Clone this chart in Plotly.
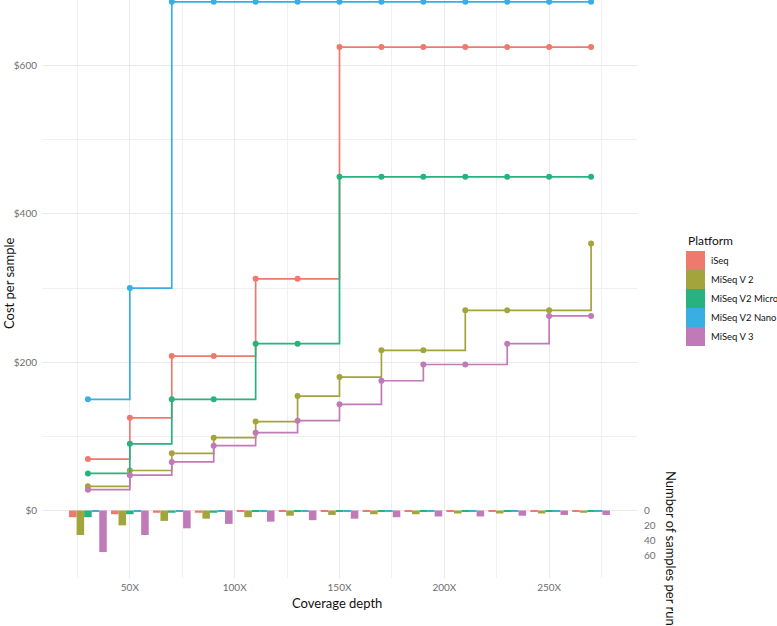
import plotly.graph_objects as go

# ---------------- data ----------------
depths = [30, 50, 70, 90, 110, 130, 150, 170, 190, 210, 230, 250, 270]
platforms = ["iSeq", "MiSeq V 2", "MiSeq V2 Micro", "MiSeq V2 Nano", "MiSeq V 3"]
colors = ["#EE7A6E", "#A3A43B", "#27B27E", "#3AADE2", "#C07AB8"]

iseq_cost = [69.4, 125, 208.3, 208.3, 312.5, 312.5, 625, 625, 625, 625, 625, 625, 625]
v2_cost = [32.7, 54, 77.1, 98.2, 120, 154.3, 180, 216, 216, 270, 270, 270, 360]
micro_cost = [50, 90, 150, 150, 225, 225, 450, 450, 450, 450, 450, 450, 450]
nano_cost = [150, 300, 686, 686, 686, 686, 686, 686, 686, 686, 686, 686, 686]
v3_cost = [28.1, 47.7, 65.6, 87.5, 105, 121.2, 143.2, 175, 196.9, 196.9, 225, 262.5, 262.5]

iseq_n = [9, 5, 3, 3, 2, 2, 1, 1, 1, 1, 1, 1, 1]
v2_n = [33, 20, 14, 11, 9, 7, 6, 5, 5, 4, 4, 4, 3]
micro_n = [9, 5, 3, 3, 2, 2, 1, 1, 1, 1, 1, 1, 1]
nano_n = [2, 1, 1, 1, 1, 1, 1, 1, 1, 1, 1, 1, 1]
v3_n = [56, 33, 24, 18, 15, 13, 11, 9, 8, 8, 7, 6, 6]

costs = [iseq_cost, v2_cost, micro_cost, nano_cost, v3_cost]
samples = [iseq_n, v2_n, micro_n, nano_n, v3_n]

x_ticks = [50, 100, 150, 200, 250]
x_ticktext = ["50X", "100X", "150X", "200X", "250X"]
y_ticks = [0, 200, 400, 600]
y_ticktext = ["$0", "$200", "$400", "$600"]
y2_ticks = [0, -20, -40, -60]
y2_ticktext = ["0", "20", "40", "60"]

# ---------------- figure ----------------
W, H = 777, 626
ML, MR, MT, MB = 42, 140, 0, 48
PW, PH = W - ML - MR, H - MT - MB
FONT = "Lato"


def px2x(px):
    return (px - ML) / PW


def py2y(py):
    return (MT + PH - py) / PH


fig = go.Figure()

for name, col, n in zip(platforms, colors, samples):
    fig.add_trace(go.Bar(
        x=depths, y=[-v for v in n], name=name, marker_color=col,
        marker_line_width=0, showlegend=False, hoverinfo="skip",
    ))

for name, col, c in zip(platforms, colors, costs):
    fig.add_trace(go.Scatter(
        x=depths, y=c, name=name, mode="lines+markers",
        line=dict(color=col, width=1.7, shape="hv"),
        marker=dict(color=col, size=6),
        showlegend=False,
    ))

# invisible trace to activate the secondary axis
fig.add_trace(go.Scatter(x=[depths[0]], y=[0], yaxis="y2", mode="markers",
                         marker=dict(opacity=0), showlegend=False, hoverinfo="skip"))

grid_major = "#E9E9E9"
grid_minor = "#F0F0F0"
tickfont = dict(family=FONT, size=10, color="#6E6E6E")

yr = [-91, 688.5]

fig.update_layout(
    width=W, height=H,
    margin=dict(l=ML, r=MR, t=MT, b=MB),
    paper_bgcolor="white", plot_bgcolor="white",
    barmode="group", bargap=0.1, bargroupgap=0,
    showlegend=False,
    font=dict(family=FONT),
    xaxis=dict(
        range=[8.1, 291.9], tickvals=x_ticks, ticktext=x_ticktext,
        showgrid=True, gridcolor=grid_major, gridwidth=1,
        minor=dict(tickvals=[25, 75, 125, 175, 225, 275], showgrid=True,
                   gridcolor=grid_minor, gridwidth=0.8),
        zeroline=False, showline=False, ticks="", tickfont=tickfont,
        ticklabelstandoff=2,
    ),
    yaxis=dict(
        range=yr, tickvals=y_ticks, ticktext=y_ticktext,
        showgrid=True, gridcolor=grid_major, gridwidth=1,
        minor=dict(tickvals=[100, 300, 500], showgrid=True,
                   gridcolor=grid_minor, gridwidth=0.8),
        zeroline=False, showline=False, ticks="", tickfont=tickfont,
        ticklabelstandoff=4,
    ),
    yaxis2=dict(
        overlaying="y", side="right", range=yr,
        tickvals=y2_ticks, ticktext=y2_ticktext,
        showgrid=False, zeroline=False, showline=False, ticks="",
        tickfont=tickfont, ticklabelstandoff=6,
    ),
)

annos = []
# axis titles
annos.append(dict(text="Cost per sample", x=px2x(9), y=py2y(283), xref="paper", yref="paper",
                  textangle=-90, showarrow=False, font=dict(family=FONT, size=13, color="#111"),
                  xanchor="center", yanchor="middle"))
annos.append(dict(text="Coverage depth", x=px2x(337), y=py2y(603), xref="paper", yref="paper",
                  showarrow=False, font=dict(family=FONT, size=13, color="#111"),
                  xanchor="center", yanchor="middle"))
annos.append(dict(text="Number of samples per run", x=px2x(671), y=py2y(548), xref="paper", yref="paper",
                  textangle=90, showarrow=False, font=dict(family=FONT, size=13, color="#111"),
                  xanchor="center", yanchor="middle"))

# legend (manual, ggplot style)
annos.append(dict(text="Platform", x=px2x(686), y=py2y(240), xref="paper", yref="paper",
                  showarrow=False, font=dict(family=FONT, size=12, color="#111"),
                  xanchor="left", yanchor="middle"))
shapes = []
key_top = 251
key_h = 19
for i, (name, col) in enumerate(zip(platforms, colors)):
    t = key_top + i * key_h
    shapes.append(dict(type="rect", xref="paper", yref="paper",
                       x0=px2x(686), x1=px2x(705), y0=py2y(t), y1=py2y(t + key_h),
                       fillcolor=col, line=dict(width=0)))
    annos.append(dict(text=name, x=px2x(709), y=py2y(t + key_h / 2), xref="paper", yref="paper",
                      showarrow=False, font=dict(family=FONT, size=9.5, color="#111"),
                      xanchor="left", yanchor="middle"))

fig.update_layout(annotations=annos, shapes=shapes)

fig.write_html("out.html", config={"displayModeBar": False},
               post_script="document.body.style.margin='0';")
